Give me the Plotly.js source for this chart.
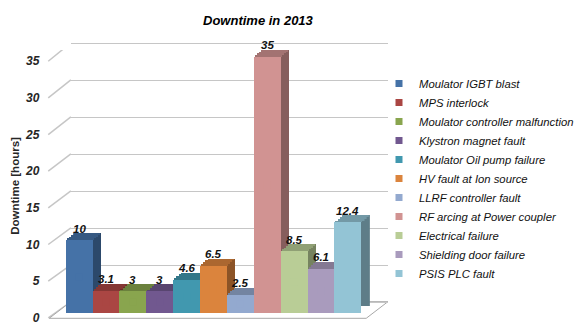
<!DOCTYPE html>
<html>
<head>
<meta charset="utf-8">
<script src="https://cdn.plot.ly/plotly-3.0.1.min.js"></script>
<style>html,body{margin:0;padding:0;background:#fff;}#chart{width:579px;height:322px;}</style>
</head>
<body>
<div id="chart"></div>
<script>
// ---- data ----
const categories = [
  "Moulator IGBT blast",
  "MPS interlock",
  "Moulator controller malfunction",
  "Klystron magnet fault",
  "Moulator Oil pump failure",
  "HV fault at Ion source",
  "LLRF controller fault",
  "RF arcing at Power coupler",
  "Electrical failure",
  "Shielding door failure",
  "PSIS PLC fault"
];
const values = [10, 3.1, 3, 3, 4.6, 6.5, 2.5, 35, 8.5, 6.1, 12.4];
const colors = ["#4572A7", "#AA4643", "#89A54E", "#71588F", "#4198AF", "#DB843D",
                "#93A9CF", "#D19392", "#B9CD96", "#A99BBD", "#93C4D5"];
const tickVals = [0, 5, 10, 15, 20, 25, 30, 35];
const titleText = "Downtime in 2013";
const yTitle = "Downtime [hours]";

// ---- geometry (pixels) ----
const W = 579, H = 322;
const PPU = 7.33;            // pixels per unit on front scale
const BACK_PPU = 7.4;        // pixels per unit on back wall
const BAR_ZERO = 313.3, BACK_ZERO = 302.3, LABEL_ZERO = 317.8;
const BAR_L = 66.7, BAR_R = 367;
const DX = 8.7, DY = 7;
const NSTRIP = 4;
const GRID_L = 72, GRID_R = 394;
const AX_X = 41;
const LABEL_TOP = 50;        // top of label-axis domain (centres the axis title)

function shade(hex, f) {
  const n = parseInt(hex.slice(1), 16);
  const r = Math.round(((n >> 16) & 255) * f), g = Math.round(((n >> 8) & 255) * f), b = Math.round((n & 255) * f);
  return "rgb(" + r + "," + g + "," + b + ")";
}
const topColors = colors.map(c => shade(c, 0.78));
const sideColors = colors.map(c => shade(c, 0.64));
const yr = (zero, ppu) => [-(H - zero) / ppu, zero / ppu];
const dom = (l, r) => [l / W, r / W];

const traces = [];
// back wall subplot (grid) - placeholder trace
traces.push({type: "scatter", x: [null], y: [null], xaxis: "x", yaxis: "y", showlegend: false, hoverinfo: "skip", mode: "markers"});
// side faces
traces.push({type: "bar", x: categories, y: values, base: DY / PPU, xaxis: "x2", yaxis: "y2",
  marker: {color: sideColors, line: {width: 0}}, showlegend: false, hoverinfo: "skip"});
// top faces as stepped strips
for (let j = 0; j < NSTRIP; j++) {
  const h = DY / NSTRIP / PPU;
  traces.push({type: "bar", x: categories, y: values.map(() => h),
    base: values.map(v => v + j * h), xaxis: "x" + (3 + j), yaxis: "y2",
    marker: {color: topColors, line: {width: 0}}, showlegend: false, hoverinfo: "skip"});
}
const FRONT_X = "x" + (3 + NSTRIP);
// front faces
traces.push({type: "bar", x: categories, y: values, xaxis: FRONT_X, yaxis: "y2",
  marker: {color: colors, line: {width: 0}}, showlegend: false, hoverinfo: "x+y"});
// legend entries (markers hidden inside the bars, same colour)
categories.forEach((c, i) => {
  traces.push({type: "scatter", mode: "markers", name: c, x: [c], y: [values[i] / 2],
    xaxis: FRONT_X, yaxis: "y2", marker: {symbol: "square", size: 7, color: colors[i]}, hoverinfo: "skip"});
});
// label axis placeholder
const LABEL_X = "x" + (4 + NSTRIP);
traces.push({type: "scatter", x: [null], y: [null], xaxis: LABEL_X, yaxis: "y3", showlegend: false, hoverinfo: "skip", mode: "markers"});

const hidden = {visible: false, fixedrange: true};
const layout = {
  width: W, height: H, autosize: false,
  margin: {l: 0, r: 0, t: 0, b: 0, pad: 0},
  paper_bgcolor: "#fff", plot_bgcolor: "rgba(0,0,0,0)",
  barmode: "overlay", bargap: 0,
  font: {family: "Liberation Sans, Arial, sans-serif", color: "#000"},
  title: {text: titleText, x: 262 / W, xanchor: "center", xref: "paper", y: 1 - 20 / H, yanchor: "middle", yref: "paper",
    font: {size: 13, weight: "bold", style: "italic", color: "#000"}},
  showlegend: true,
  legend: {x: 385 / W, xanchor: "left", y: 1 - 69 / H, yanchor: "top", bgcolor: "rgba(0,0,0,0)",
    font: {size: 11.3, style: "italic", color: "#111"}, traceorder: "normal"},
  xaxis: {domain: dom(GRID_L, GRID_R), range: [0, 1], type: "linear", visible: false, fixedrange: true},
  yaxis: {domain: [0, 1], anchor: "x", range: yr(BACK_ZERO, BACK_PPU), tickvals: tickVals, showticklabels: false,
    showgrid: true, gridcolor: "#c6c6c6", gridwidth: 1.5, zeroline: false, showline: false, ticks: "", fixedrange: true},
  xaxis2: Object.assign({domain: dom(BAR_L + DX, BAR_R + DX), type: "category", range: [-0.5, categories.length - 0.5], anchor: "y2"}, hidden),
  yaxis2: Object.assign({domain: [0, 1], anchor: FRONT_X, range: yr(BAR_ZERO, PPU)}, hidden),
  annotations: [],
  shapes: []
};
for (let j = 0; j < NSTRIP; j++) {
  const dx = DX * (j + 0.5) / NSTRIP;
  layout["xaxis" + (3 + j)] = Object.assign({domain: dom(BAR_L + dx, BAR_R + dx), type: "category",
    range: [-0.5, categories.length - 0.5], anchor: "y2"}, hidden);
}
layout["xaxis" + (3 + NSTRIP)] = Object.assign({domain: dom(BAR_L, BAR_R), type: "category",
  range: [-0.5, categories.length - 0.5], anchor: "y2"}, hidden);
layout["xaxis" + (4 + NSTRIP)] = Object.assign({domain: dom(AX_X, AX_X + 20), range: [0, 1], type: "linear", anchor: "y3"}, hidden);
layout.yaxis3 = {domain: [0, 1 - LABEL_TOP / H], anchor: LABEL_X, side: "left",
  range: [-(H - LABEL_ZERO) / PPU, (LABEL_ZERO - LABEL_TOP) / PPU], tickvals: tickVals,
  ticktext: tickVals.map(String), ticks: "", showline: false, showgrid: false, zeroline: false, fixedrange: true,
  ticklabeloverflow: "allow",
  tickfont: {size: 12, weight: "bold", style: "italic", color: "#262626"},
  title: {text: yTitle, standoff: 2, font: {size: 11.5, weight: "bold", color: "#262626"}}};

// data labels
categories.forEach((c, i) => {
  layout.annotations.push({xref: FRONT_X, yref: "y2", x: c, y: values[i], text: String(values[i]),
    showarrow: false, yshift: 11.5, font: {size: 11.5, weight: "bold", style: "italic", color: "#111"}});
});
// perspective connectors from the front tick labels to the back wall
tickVals.forEach(v => {
  layout.shapes.push({type: "line", layer: "below", xref: "paper", x0: 49 / W, x1: GRID_L / W,
    yref: "y3", ysizemode: "pixel", yanchor: v, y0: 0, y1: 16 + 0.07 * v,
    line: {color: "#c6c6c6", width: 1.5}});
});
// floor
layout.shapes.push({type: "path", layer: "below", xref: "paper", yref: "paper",
  path: "M " + (50 / W) + " " + (1 - 318.3 / H) + " L " + (372 / W) + " " + (1 - 318.3 / H) +
        " L " + (394 / W) + " " + (1 - 301.7 / H) + " L " + (GRID_L / W) + " " + (1 - 301.7 / H) + " Z",
  fillcolor: "#fff", line: {color: "#a8a8a8", width: 1}});

Plotly.newPlot("chart", traces, layout, {displayModeBar: false, staticPlot: true});
</script>
</body>
</html>
